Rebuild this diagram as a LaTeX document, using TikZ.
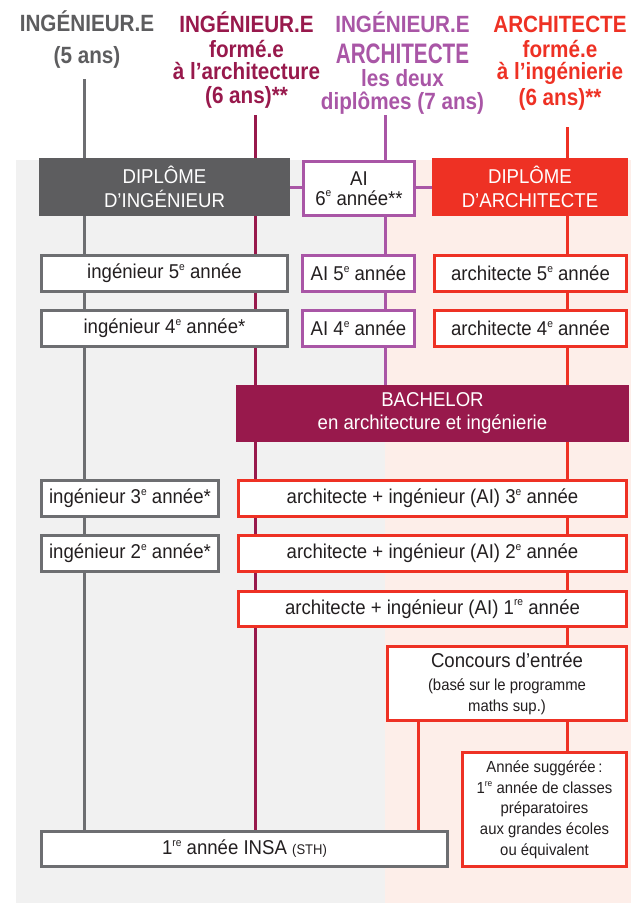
\documentclass[tikz,border=0pt]{standalone}
\usepackage{fontspec}
\usepackage{graphicx}
\usepackage{xcolor}
\setmainfont{Liberation Sans}[FakeStretch=0.93]
\newfontfamily\headfont{Liberation Sans}[FakeStretch=0.88]
\newcommand{\smalltext}{\fontsize{16}{20.7}\selectfont}
\newcommand{\expo}[1]{\raisebox{8.3pt}{\fontsize{11}{11}\selectfont #1}}
\newcommand{\smallexpo}[1]{\raisebox{6.6pt}{\fontsize{9}{9}\selectfont #1}}
\definecolor{ingegrey}{HTML}{5D5D5F}
\definecolor{linegrey}{HTML}{6D6E71}
\definecolor{archimaroon}{HTML}{98194C}
\definecolor{aipurple}{HTML}{A956A6}
\definecolor{archired}{HTML}{EE3124}
\definecolor{bggrey}{HTML}{F1F1F1}
\definecolor{bgpink}{HTML}{FDEEE9}
\definecolor{boxtext}{HTML}{231F20}
\pgfdeclarelayer{bg}
\pgfdeclarelayer{lines}
\pgfsetlayers{bg,lines,main}
\tikzset{
    head-text/.style = {text=#1, align=center, anchor=north, inner sep=0pt, font=\headfont\bfseries\fontsize{23.5}{23.3}\selectfont},
    year-box/.style = {draw=#1, fill=white, line width=3pt, rectangle, inner sep=0pt, minimum height=36pt, text=boxtext, font=\fontsize{20}{24}\selectfont},
    diploma-box/.style = {fill=#1, text=white, rectangle, inner sep=0pt, minimum height=58pt, align=center, font=\fontsize{20}{24}\selectfont},
    path-line/.style = {draw=#1, line width=3pt},
}
\begin{document}
\begin{tikzpicture}[x=1pt, y=-1pt]
\useasboundingbox (0,0) rectangle (631,903);
\begin{pgfonlayer}{bg}
\fill[bggrey] (16,160) rectangle (385,903);
\fill[bgpink] (385,160) rectangle (631,903);
\end{pgfonlayer}
% column titles
\node[head-text=ingegrey] (head-inge) at (87,10.5) {INGÉNIEUR.E\\[8.3pt](5 ans)};
\node[head-text=archimaroon] (head-form-archi) at (246.5,11) {INGÉNIEUR.E\\[1.7pt]formé.e\\[-1pt]à l’architecture\\[0.4pt](6 ans)**};
\node[head-text=aipurple] (head-ai) at (402.5,11) {INGÉNIEUR.E\\[8.3pt]\scalebox{1}[1.2]{ARCHITECTE}\\[0pt]les deux\\[-1pt]diplômes (7 ans)};
\node[head-text=archired] (head-form-inge) at (560,15.6) {ARCHITECTE\\[1.7pt]formé.e\\[-1.2pt]à l’ingénierie\\[3pt](6 ans)**};
\coordinate (top-inge) at (84.5,79);
\coordinate (top-form-archi) at (255.5,115);
\coordinate (top-ai) at (385,115);
\coordinate (top-form-inge) at (567.5,127);
% diplomas
\node[diploma-box=ingegrey, minimum width=251pt] (dip-inge) at (164.5,187) {DIPLÔME\\D’INGÉNIEUR};
\node[year-box=aipurple, minimum width=111pt, minimum height=54pt, align=center, font=\fontsize{20}{20}\selectfont] (ai-6) at (359,188.5) {AI\\6\expo{e} année**};
\node[diploma-box=archired, minimum width=196pt] (dip-archi) at (530,187) {DIPLÔME\\D’ARCHITECTE};
% 5e and 4e
\node[year-box=linegrey, minimum width=246pt] (inge-5) at (164.5,273.5) {ingénieur 5\expo{e} année};
\node[year-box=aipurple, minimum width=112pt] (ai-5) at (358.5,273.5) {AI 5\expo{e} année};
\node[year-box=archired, minimum width=192pt] (archi-5) at (530.5,273.5) {architecte 5\expo{e} année};
\node[year-box=linegrey, minimum width=246pt] (inge-4) at (164.5,328.5) {ingénieur 4\expo{e} année*};
\node[year-box=aipurple, minimum width=112pt] (ai-4) at (358.5,328.5) {AI 4\expo{e} année};
\node[year-box=archired, minimum width=192pt] (archi-4) at (530.5,328.5) {architecte 4\expo{e} année};
\node[diploma-box=archimaroon, minimum width=393pt, minimum height=57pt, font=\fontsize{20}{23}\selectfont] (bachelor) at (432.5,413.5) {BACHELOR\\en architecture et ingénierie};
% 3e to 1re
\node[year-box=linegrey, minimum width=177pt] (inge-3) at (130,498.5) {ingénieur 3\expo{e} année*};
\node[year-box=archired, minimum width=388pt] (ai-3) at (432.5,498.5) {architecte + ingénieur (AI) 3\expo{e} année};
\node[year-box=linegrey, minimum width=177pt] (inge-2) at (130,553.5) {ingénieur 2\expo{e} année*};
\node[year-box=archired, minimum width=388pt] (ai-2) at (432.5,553.5) {architecte + ingénieur (AI) 2\expo{e} année};
\node[year-box=archired, minimum width=388pt, minimum height=35pt] (ai-1) at (432.5,609) {architecte + ingénieur (AI) 1\expo{re} année};
\node[year-box=archired, minimum width=239pt, minimum height=74pt, align=center, font=\fontsize{20}{22}\selectfont] (concours) at (507,683.5) {Concours d’entrée\\[1pt]{\smalltext (basé sur le programme}\\[-1pt]{\smalltext maths sup.)}};
\node[year-box=archired, minimum width=164pt, minimum height=114pt, align=center, font=\smalltext] (suggeree) at (544.5,809.5) {Année suggérée\,:\\1\smallexpo{re} année de classes\\préparatoires\\aux grandes écoles\\ou équivalent};
\node[year-box=linegrey, minimum width=406pt, minimum height=35pt] (insa) at (244.5,849) {1\expo{re} année INSA {\fontsize{14}{16}\selectfont(STH)}};
% paths
\begin{pgfonlayer}{lines}
\draw[path-line=linegrey] (top-inge) -- (top-inge |- insa.north);
\draw[path-line=archimaroon] (top-form-archi) -- (top-form-archi |- insa.north);
\draw[path-line=aipurple] (top-ai) -- (top-ai |- bachelor.north);
\draw[path-line=archired] (top-form-inge) -- (top-form-inge |- suggeree.north);
\draw[path-line=archired] ([xshift=32.5pt]concours.south west) -- ([xshift=32.5pt]concours.south west |- insa.north);
\draw[path-line=aipurple] (dip-inge.east) -- (dip-archi.west);
\end{pgfonlayer}
\end{tikzpicture}
\end{document}
